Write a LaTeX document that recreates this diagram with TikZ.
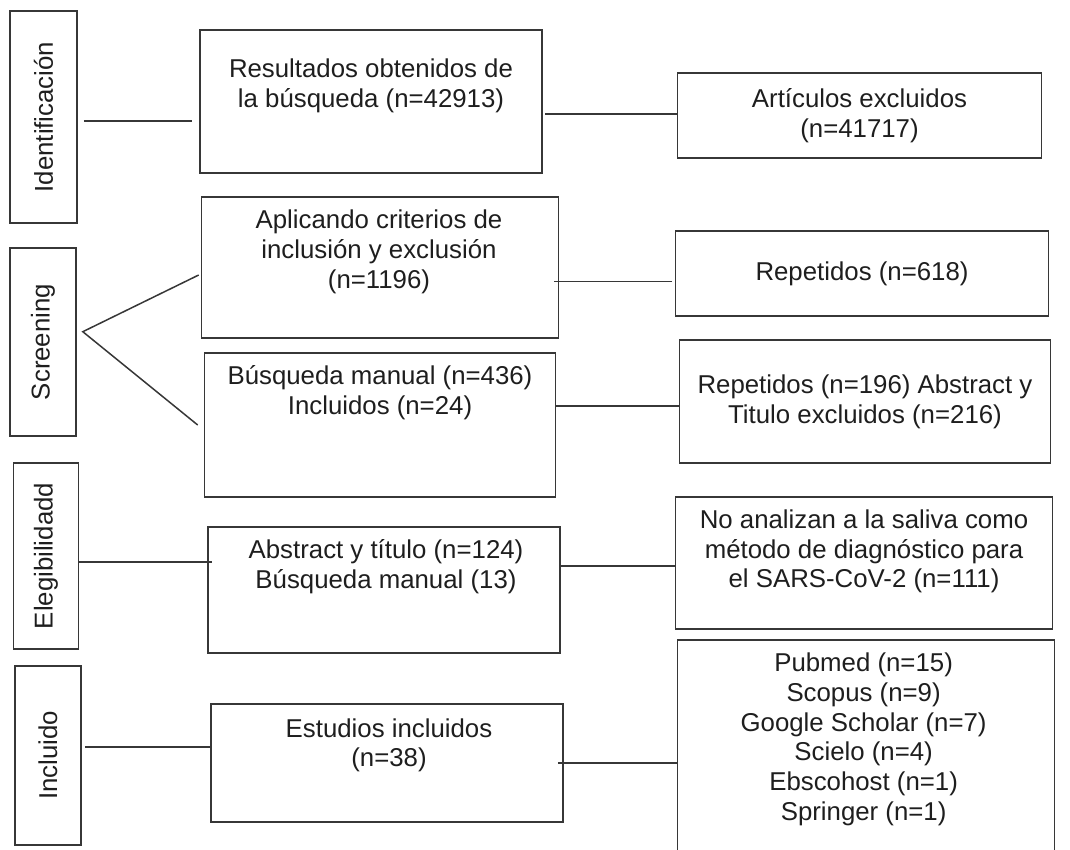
\documentclass[tikz,border=0pt]{standalone}
\usepackage{fontspec}
\setmainfont{Liberation Sans}
\usepackage{graphicx}
\usepackage{tikz}
\usetikzlibrary{positioning}
\definecolor{linegray}{RGB}{55, 55, 55}
\definecolor{inkgray}{RGB}{30, 30, 30}

\begin{document}
\begin{tikzpicture}[
        x=1pt, y=-1pt,
        stage/.style={rectangle, draw=linegray, line width=1.6pt, inner sep=0pt, text=inkgray, font=\fontsize{25.8}{29.7}\selectfont},
        box/.style={rectangle, draw=linegray, line width=1.6pt, inner sep=0pt, align=center, text=inkgray, font=\fontsize{25.8}{29.7}\selectfont},
        txt/.style={inner sep=0pt, align=center, text=inkgray, font=\fontsize{25.8}{29.7}\selectfont},
        link/.style={draw=linegray, line width=1.5pt}
    ]
        \useasboundingbox (0,0) rectangle (1070,849);

        % Stage labels
        \node[stage, minimum width=67pt, minimum height=212pt] (ident) at (43.5,117) {\rotatebox{90}{Identificación}};
        \node[stage, minimum width=66pt, minimum height=188pt] (screen) at (43,342) {\rotatebox{90}{Screening}};
        \node[stage, minimum width=65pt, minimum height=186pt] (eleg) at (46,556) {\rotatebox{90}{Elegibilidadd}};
        \node[stage, minimum width=66pt, minimum height=179pt] (incl) at (48,755.5) {\rotatebox{90}{Incluido}};

        % Main column
        \node[box, minimum width=342pt, minimum height=143pt] (res) at (371,101.5) {};
        \node[txt] (resT) at ([yshift=16pt]res.center) {Resultados obtenidos de\\la búsqueda (n=42913)};
        \node[box, minimum width=357pt, minimum height=141pt] (apl) at (380,267.5) {};
        \node[txt] (aplT) at ([xshift=-1pt,yshift=15.6pt]apl.center) {Aplicando criterios de\\inclusión y exclusión\\(n=1196)};
        \node[box, minimum width=351pt, minimum height=144pt] (bus) at (380,425) {};
        \node[txt] (busT) at ([yshift=32.6pt]bus.center) {Búsqueda manual (n=436)\\Incluidos (n=24)};
        \node[box, minimum width=352pt, minimum height=126pt] (abs) at (384,590) {};
        \node[txt] (absT) at ([xshift=2pt,yshift=23pt]abs.center) {Abstract y título (n=124)\\Búsqueda manual (13)};
        \node[box, minimum width=352pt, minimum height=118pt] (est) at (387,763) {};
        \node[txt] (estT) at ([xshift=2pt,yshift=17.6pt]est.center) {Estudios incluidos\\(n=38)};

        % Excluded column
        \node[box, minimum width=364pt, minimum height=85pt] (art) at (859.5,115.5) {Artículos excluidos\\(n=41717)};
        \node[box, minimum width=373pt, minimum height=85pt] (rep1) at (862,273.5) {Repetidos (n=618)};
        \node[box, minimum width=371pt, minimum height=123pt] (rep2) at (865,401.5) {Repetidos (n=196) Abstract y\\Titulo excluidos (n=216)};
        \node[box, minimum width=377pt, minimum height=132pt] (noan) at (864,563) {};
        \node[txt] (noanT) at ([yshift=11.6pt]noan.center) {No analizan a la saliva como\\método de diagnóstico para\\el SARS-CoV-2 (n=111)};
        \node[box, minimum width=377pt, minimum height=216pt] (pub) at (866,748) {};
        \node[txt] (pubT) at ([xshift=-2.4pt,yshift=8.6pt]pub.center) {Pubmed (n=15)\\Scopus (n=9)\\Google Scholar (n=7)\\Scielo (n=4)\\Ebscohost (n=1)\\Springer (n=1)};

        \coordinate (fork) at ([xshift=6pt,yshift=10.3pt]screen.east);

        \draw[link] ([xshift=6pt,yshift=-4pt]ident.east) -- ([xshift=-7pt,yshift=-4pt]ident.east -| res.west);
        \draw[link] ([yshift=1.5pt]art.west) -- ([xshift=2.6pt,yshift=1.5pt]art.west -| res.east);
        \draw[link] ([xshift=-2pt,yshift=-7.5pt]apl.west) -- (fork) -- ([xshift=-6pt]bus.west);
        \draw[link] ([xshift=-2.7pt,yshift=-8.2pt]rep1.west) -- ([xshift=-5pt,yshift=-8.2pt]rep1.west -| apl.east);
        \draw[link] ([yshift=-4.5pt]rep2.west) -- ([yshift=-4.5pt]rep2.west -| bus.east);
        \draw[link] ([yshift=-6pt]eleg.east) -- ([xshift=4.5pt,yshift=-6pt]eleg.east -| abs.west);
        \draw[link] ([yshift=-3pt]noan.west) -- ([yshift=-3pt]noan.west -| abs.east);
        \draw[link] ([xshift=3pt,yshift=8.5pt]incl.east) -- ([yshift=8.5pt]incl.east -| est.west);
        \draw[link] ([xshift=-6pt]est.east) -- (est.east -| pub.west);
    \end{tikzpicture}
\end{document}
